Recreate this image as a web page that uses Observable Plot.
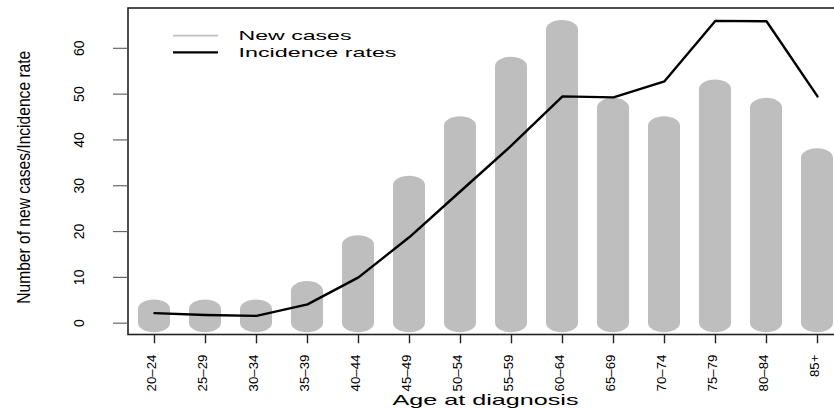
<!DOCTYPE html>
<html>
<head>
<meta charset="utf-8">
<script src="https://cdn.jsdelivr.net/npm/d3@7"></script>
<script src="https://cdn.jsdelivr.net/npm/@observablehq/plot@0.6"></script>
<style>
  html, body { margin: 0; padding: 0; background: #fff; overflow: hidden; }
  #chart { width: 834px; height: 409px; }
</style>
</head>
<body>
<div id="chart"></div>
<script>
// Age groups at diagnosis
const ageGroups = ["20\u201324", "25\u201329", "30\u201334", "35\u201339", "40\u201344", "45\u201349", "50\u201354",
                   "55\u201359", "60\u201364", "65\u201369", "70\u201374", "75\u201379", "80\u201384", "85+"];
// Number of new cases per age group
const newCases = [3, 3, 3, 7, 17, 30, 43, 56, 64, 47, 43, 51, 47, 36];
// Incidence rate per age group
const incidenceRates = [2.2, 1.8, 1.6, 4.1, 10.0, 18.8, 28.8, 38.8, 49.5, 49.3, 52.8, 66.0, 65.9, 49.5];
// Y axis ticks
const yTicks = [0, 10, 20, 30, 40, 50, 60];
const seriesLabels = ["New cases", "Incidence rates"];
const xTitle = "Age at diagnosis";
const yTitle = "Number of new cases/Incidence rate";

const FONT = "'Liberation Sans', Arial, Helvetica, sans-serif";
const BAR_GREY = "#bebebe";

const rows = ageGroups.map((age, i) => ({age, cases: newCases[i], rate: incidenceRates[i]}));

// Legend drawn in the upper-left corner of the plot box
function legend(index, scales, values, dim) {
  const g = d3.create("svg:g")
    .attr("font-family", FONT)
    .style("font-size", "13px")
    .attr("text-anchor", "start");
  const items = [
    {label: seriesLabels[0], color: BAR_GREY, sw: 1.8, len: 113},
    {label: seriesLabels[1], color: "#000", sw: 2.3, len: 158}
  ];
  items.forEach((d, i) => {
    const y = dim.marginTop + 28.2 + i * 16.6;
    g.append("line")
      .attr("x1", dim.marginLeft + 45.5).attr("x2", dim.marginLeft + 90.5)
      .attr("y1", y).attr("y2", y)
      .attr("stroke", d.color).attr("stroke-width", d.sw);
    g.append("text")
      .attr("x", dim.marginLeft + 111).attr("y", y + 4.2)
      .attr("fill", "#000")
      .attr("text-anchor", "start")
      .attr("textLength", d.len).attr("lengthAdjust", "spacingAndGlyphs")
      .text(d.label);
  });
  return g.node();
}

const chart = Plot.plot({
  width: 834,
  height: 409,
  marginLeft: 127.5,
  marginRight: -8.5,
  marginTop: 7.5,
  marginBottom: 75,
  style: {fontFamily: FONT, background: "#fff", color: "#000"},
  x: {type: "band", domain: ageGroups, range: [128.5, 842.5], paddingInner: 0.3725, paddingOuter: 0.18625, axis: null},
  y: {domain: [-2.47, 68.8], axis: null},
  marks: [
    // new cases: rounded columns from 0 up to the count
    Plot.barY(rows, {x: "age", y1: 0, y2: "cases", fill: BAR_GREY, rx: 16, ry: 9.5, insetTop: -9.5, insetBottom: -9.5}),
    // incidence rate line
    Plot.line(rows, {x: "age", y: "rate", stroke: "#000", strokeWidth: 2.4, strokeLinejoin: "round", strokeLinecap: "round"}),
    Plot.frame({stroke: "#222", strokeWidth: 1.6}),
    // y axis ticks and labels
    Plot.axisY(yTicks, {tickSize: 14.5, tickFormat: () => "", label: null, stroke: "#666", strokeWidth: 1.2}),
    Plot.text(yTicks, {y: d => d, text: d => String(d), frameAnchor: "left", rotate: -90, textAnchor: "middle",
                       lineAnchor: "bottom", dx: -44.5, fontSize: 14, fill: "#000"}),
    // x axis ticks and labels
    Plot.axisX(ageGroups, {tickSize: 9.3, tickFormat: () => "", label: null, stroke: "#222", strokeWidth: 1.4}),
    Plot.text(ageGroups, {x: d => d, text: d => d, frameAnchor: "bottom", rotate: -90, textAnchor: "end",
                          lineAnchor: "bottom", dx: 1.5, dy: 20, fontSize: 13.3, fill: "#000"}),
    // axis titles
    Plot.text([xTitle], {text: d => d, frameAnchor: "bottom", lineAnchor: "bottom", dy: 70, fontSize: 15, fill: "#000"}),
    Plot.text([yTitle], {text: d => d, frameAnchor: "left", rotate: -90, textAnchor: "middle", lineAnchor: "bottom",
                         dx: -98.5, dy: 6, fontSize: 18, fill: "#000"}),
    legend
  ]
});

// stretched lengths of the axis titles
d3.select(chart).selectAll("text").each(function () {
  const t = this.textContent;
  const s = d3.select(this);
  if (t === xTitle) s.attr("textLength", 186).attr("lengthAdjust", "spacingAndGlyphs");
  else if (t === yTitle) s.attr("textLength", 253).attr("lengthAdjust", "spacingAndGlyphs");
});

document.getElementById("chart").append(chart);
</script>
</body>
</html>
